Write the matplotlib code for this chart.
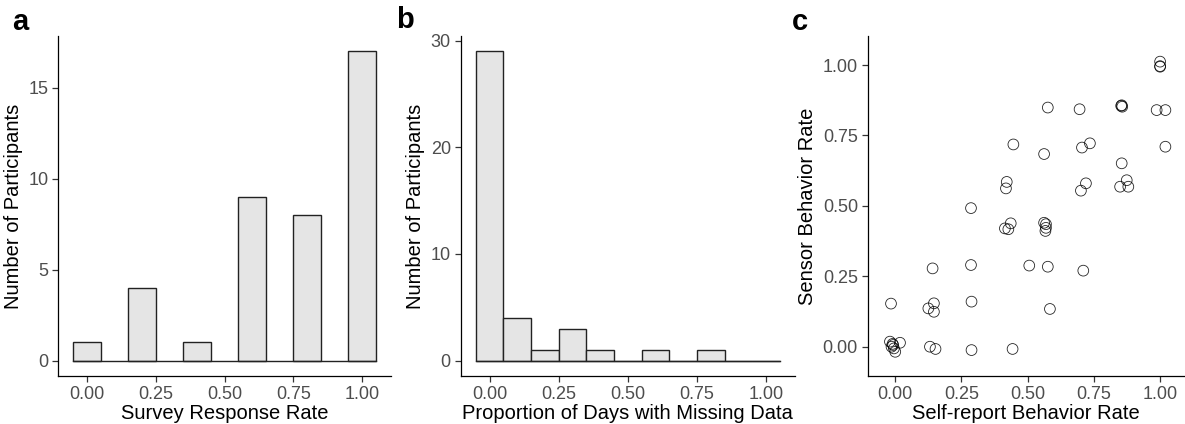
import numpy as np
import matplotlib
matplotlib.use("Agg")
import matplotlib.pyplot as plt

plt.rcParams["font.family"] = ["Liberation Sans", "DejaVu Sans"]

# panel a: survey response rate histogram
a_centers = [0.0, 0.2, 0.4, 0.6, 0.8, 1.0]
a_counts = [1, 4, 1, 9, 8, 17]

# panel b: proportion of days with missing data
b_centers = [0.0, 0.1, 0.2, 0.3, 0.4, 0.5, 0.6, 0.7, 0.8, 0.9, 1.0]
b_counts = [29, 4, 1, 3, 1, 0, 1, 0, 1, 0, 0]

# panel c: self-report vs sensor (jittered points)
self_report = [1.0, 1.0, 1.0, 0.576, 0.696, 0.855, 0.857, 0.853, 0.987, 1.02,
               0.446, 0.562, 0.705, 0.735, 1.02, 0.855,
               0.421, 0.418, 0.720, 0.701, 0.849, 0.874, 0.880,
               0.286, 0.436, 0.414, 0.427, 0.562, 0.569, 0.569, 0.567,
               0.286, 0.506, 0.576, 0.710, 0.141,
               -0.016, 0.125, 0.146, 0.146, 0.288, 0.584,
               -0.02, -0.014, -0.008, -0.005, 0.0, 0.018, -0.01,
               0.131, 0.152, 0.288, 0.443]
sensor = [1.012, 0.996, 0.994, 0.849, 0.843, 0.857, 0.852, 0.855, 0.840, 0.840,
          0.718, 0.684, 0.707, 0.722, 0.710, 0.651,
          0.585, 0.562, 0.580, 0.554, 0.568, 0.591, 0.568,
          0.492, 0.438, 0.420, 0.417, 0.440, 0.435, 0.422, 0.411,
          0.290, 0.288, 0.284, 0.270, 0.278,
          0.153, 0.136, 0.154, 0.124, 0.160, 0.134,
          0.018, 0.0, 0.006, -0.006, -0.018, 0.014, 0.01,
          0.0, -0.008, -0.012, -0.008]

W, H = 1185, 424
fig = plt.figure(figsize=(W / 100, H / 100), dpi=100)

def box(l, r, t=36, b=376):
    return [l / W, (H - b) / H, (r - l) / W, (b - t) / H]

ax_a = fig.add_axes(box(58, 391))
ax_b = fig.add_axes(box(460.5, 795))
ax_c = fig.add_axes(box(867.7, 1185))

def style(ax):
    for s in ["top", "right"]:
        ax.spines[s].set_visible(False)
    for s in ["left", "bottom"]:
        ax.spines[s].set_linewidth(0.9)
        ax.spines[s].set_color("black")
    ax.tick_params(length=4, width=0.9, color="#333333", labelsize=13,
                   labelcolor="#4D4D4D", pad=3)

ticks = [0.0, 0.25, 0.5, 0.75, 1.0]
tick_labels = ["0.00", "0.25", "0.50", "0.75", "1.00"]

ax_a.bar(a_centers, a_counts, width=0.1, color="#E5E5E5", edgecolor="#222222", linewidth=1.0)
ax_a.plot([-0.05, 1.05], [0, 0], color="#222222", lw=1.0)
ax_a.set_xlim(-0.105, 1.105)
ax_a.set_ylim(-0.85, 17.85)
ax_a.set_yticks([0, 5, 10, 15])
ax_a.set_xticks(ticks, tick_labels)
ax_a.set_xlabel("Survey Response Rate", fontsize=14.5, labelpad=1)
ax_a.set_ylabel("Number of Participants", fontsize=14.5, labelpad=4)
style(ax_a)

ax_b.bar(b_centers, b_counts, width=0.1, color="#E5E5E5", edgecolor="#222222", linewidth=1.0)
ax_b.plot([-0.05, 1.05], [0, 0], color="#222222", lw=1.0)
ax_b.set_xlim(-0.105, 1.105)
ax_b.set_ylim(-1.45, 30.45)
ax_b.set_yticks([0, 10, 20, 30])
ax_b.set_xticks(ticks, tick_labels)
ax_b.set_xlabel("Proportion of Days with Missing Data", fontsize=14.5, labelpad=1)
ax_b.set_ylabel("Number of Participants", fontsize=14.5, labelpad=4)
style(ax_b)

ax_c.scatter(self_report, sensor, s=60, facecolors="none", edgecolors="black",
             linewidths=0.6, alpha=0.85)
ax_c.set_xlim(-0.104, 1.094)
ax_c.set_ylim(-0.104, 1.103)
ax_c.set_xticks(ticks, tick_labels)
ax_c.set_yticks(ticks, tick_labels)
ax_c.set_xlabel("Self-report Behavior Rate", fontsize=14.5, labelpad=1)
ax_c.set_ylabel("Sensor Behavior Rate", fontsize=14.5, labelpad=4)
style(ax_c)

fig.text(12 / W, 1 - 30 / H, "a", fontsize=21, fontweight="bold")
fig.text(396 / W, 1 - 28 / H, "b", fontsize=21, fontweight="bold")
fig.text(792 / W, 1 - 30 / H, "c", fontsize=21, fontweight="bold")

fig.savefig("out.png", dpi=100)
